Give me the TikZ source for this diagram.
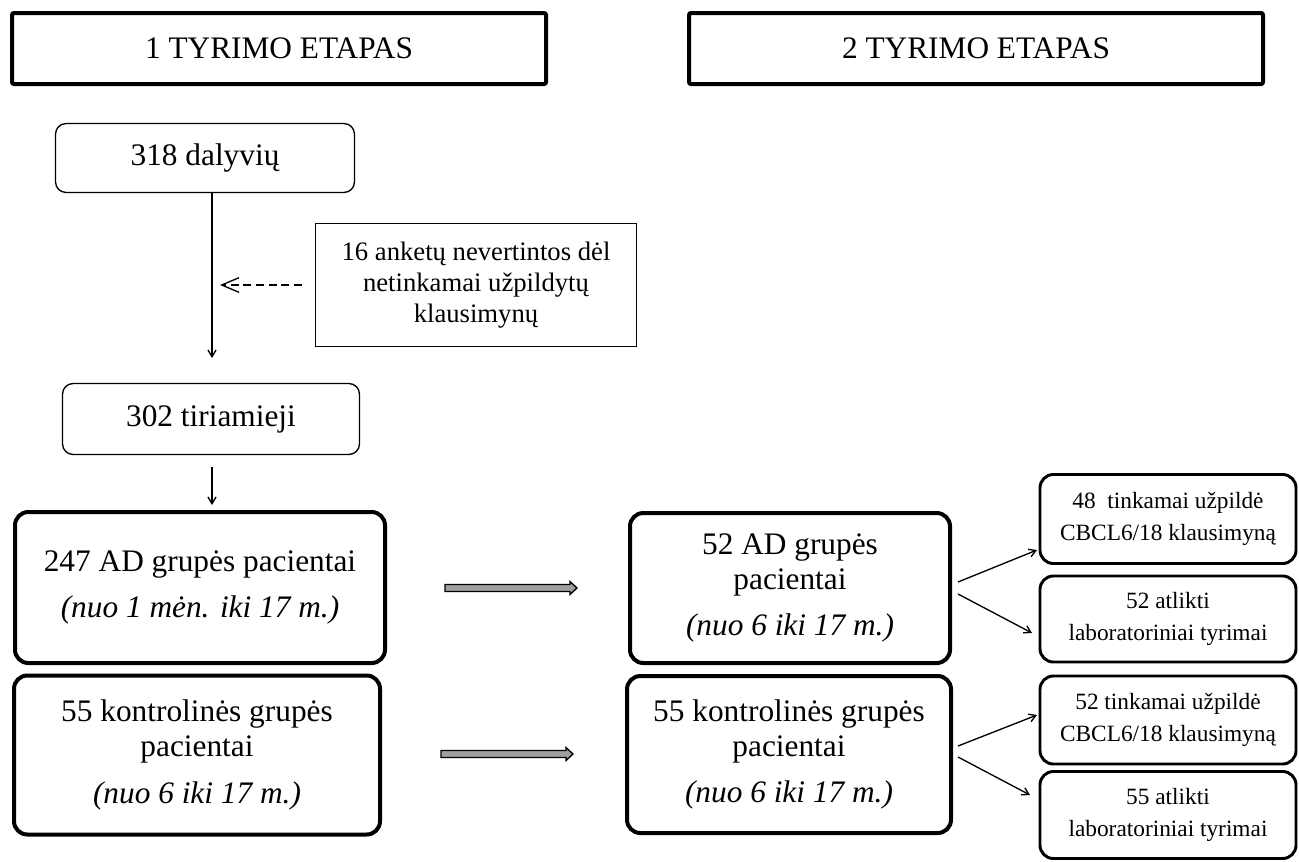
\documentclass[tikz,border=0pt]{standalone}
\usepackage{fontspec}
\setmainfont{Liberation Serif}
\usetikzlibrary{arrows.meta,calc}
\begin{document}
\begin{tikzpicture}[x=0.75pt,y=-0.75pt,
  sz/.style 2 args={minimum width={#1*0.75pt}, minimum height={#2*0.75pt}},
  hdr/.style={draw, line width=3pt, rounded corners=1.5pt, inner sep=0pt, align=center, font=\fontsize{23.5}{26}\selectfont},
  thinbox/.style={draw, line width=1pt, rounded corners=8pt, inner sep=0pt, align=center, font=\fontsize{23.5}{26}\selectfont},
  notebox/.style={draw, line width=0.8pt, inner sep=0pt, align=center, font=\fontsize{20}{23}\selectfont},
  bigbox/.style={draw, line width=3pt, rounded corners=10pt, inner sep=0pt, align=center, font=\fontsize{23.5}{26}\selectfont},
  smallbox/.style={draw, line width=2.2pt, rounded corners=10pt, inner sep=0pt, align=center, font=\fontsize{17.5}{24}\selectfont},
  arr/.style={line width=1pt, -{Straight Barb[length=5pt,width=6pt]}},
  dasharr/.style={line width=1pt, dash pattern=on 6pt off 3.5pt, -{Straight Barb[length=13pt,width=11pt]}},
  blk/.style={fill=gray!75, draw=black, line width=1pt, line join=miter}
]
\fill[white] (0,0) rectangle (1299,861);
\useasboundingbox (0,0) rectangle (1299,861);

% headers
\node[hdr, sz={534}{71}] (h1) at (279,48.5) {1 TYRIMO ETAPAS};
\node[hdr, sz={574}{71}] (h2) at (976,48.5) {2 TYRIMO ETAPAS};

% stage 1
\node[thinbox, sz={299}{69}] (b318) at (205,158) {318 dalyvių};
\node[notebox, sz={321}{123}] (note) at (476,285) {16 anketų nevertintos dėl\\netinkamai užpildytų\\klausimynų};
\node[thinbox, sz={297}{71}] (b302) at (211,419) {302 tiriamieji};

\node[bigbox, sz={370}{151}] (ad1) at (200,587.5) {247 AD grupės pacientai\\[8pt]\textit{(nuo 1 mėn. iki 17 m.)}};
\node[bigbox, sz={366}{159}] (k1) at (197,755) {55 kontrolinės grupės\\pacientai\\[9pt]\textit{(nuo 6 iki 17 m.)}};

% stage 2
\node[bigbox, sz={320}{150}] (ad2) at (790,588) {52 AD grupės\\pacientai\\[9pt]\textit{(nuo 6 iki 17 m.)}};
\node[bigbox, sz={324}{157}] (k2) at (789,754.5) {55 kontrolinės grupės\\pacientai\\[9pt]\textit{(nuo 6 iki 17 m.)}};

\node[smallbox, sz={256}{89}] (s1) at (1168,519) {48 \ tinkamai užpildė\\CBCL6/18 klausimyną};
\node[smallbox, sz={256}{86}] (s2) at (1168,619) {52 atlikti\\laboratoriniai tyrimai};
\node[smallbox, sz={256}{88}] (s3) at (1168,720) {52 tinkamai užpildė\\CBCL6/18 klausimyną};
\node[smallbox, sz={256}{87}] (s4) at (1168,815) {55 atlikti\\laboratoriniai tyrimai};

% vertical arrows
\coordinate (d1) at (212,358);
\draw[arr] (d1 |- b318.south) -- (d1);
\coordinate (dd) at (220,285);
\draw[dasharr] ($(note.west)+(-13,0)$) -- (dd);
\coordinate (d2s) at (212,467);
\coordinate (d2e) at (212,505);
\draw[arr] (d2s) -- (d2e);

% block arrows
\coordinate (a1s) at (445,588);
\coordinate (a1e) at (577,588);
\coordinate (a2s) at (441,754);
\coordinate (a2e) at (573,754);
\foreach \s/\e in {a1s/a1e, a2s/a2e}{
  \draw[blk] ($(\s)+(0,-3.5)$) -- ($(\e)+(-7,-3.5)$) -- ($(\e)+(-7,-6.5)$) -- (\e)
    -- ($(\e)+(-7,6.5)$) -- ($(\e)+(-7,3.5)$) -- ($(\s)+(0,3.5)$) -- cycle;
}

% fan arrows
\coordinate (f1s) at (958,582); \coordinate (f1e) at (1037,550);
\coordinate (f2s) at (958,594); \coordinate (f2e) at (1032,633);
\coordinate (f3s) at (958,746); \coordinate (f3e) at (1037,715);
\coordinate (f4s) at (958,757); \coordinate (f4e) at (1030,795);
\draw[arr] (f1s) -- (f1e);
\draw[arr] (f2s) -- (f2e);
\draw[arr] (f3s) -- (f3e);
\draw[arr] (f4s) -- (f4e);
\end{tikzpicture}
\end{document}
